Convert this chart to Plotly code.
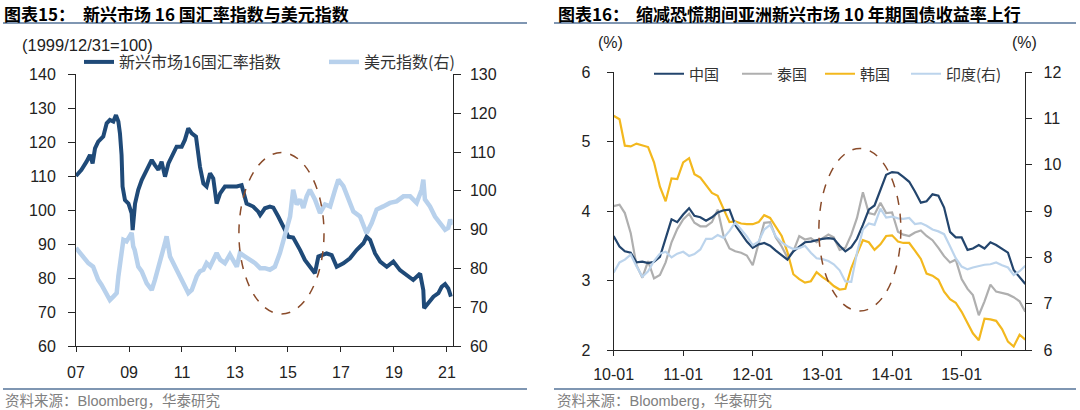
import plotly.graph_objects as go
import pandas as pd

W, H = 1080, 410
FONT = "Liberation Sans, Noto Sans CJK SC, sans-serif"
CJK = "Noto Sans CJK SC, Liberation Sans, sans-serif"


def py(p):
    # pixel row -> paper y
    return 1 - p / H


# ---- left chart: EM 16 FX index vs USD index ----
fx_dates = ["2007-01-01", "2007-03-17", "2007-05-26", "2007-07-13", "2007-08-18", "2007-09-20",
            "2007-11-03", "2008-01-12", "2008-02-28", "2008-04-12", "2008-05-30", "2008-07-05",
            "2008-08-07", "2008-08-29", "2008-09-20", "2008-10-04", "2008-11-06", "2008-12-24",
            "2009-02-06", "2009-02-20", "2009-03-25", "2009-05-08", "2009-06-25", "2009-09-02",
            "2009-11-10", "2009-12-24", "2010-02-10", "2010-03-26", "2010-05-12", "2010-06-28",
            "2010-09-02", "2010-10-19", "2010-12-28", "2011-02-10", "2011-03-29", "2011-05-16",
            "2011-07-13", "2011-08-15", "2011-09-06", "2011-10-23", "2011-12-06", "2012-01-23",
            "2012-03-07", "2012-04-23", "2012-06-10", "2012-08-15", "2012-10-23", "2013-01-26",
            "2013-04-02", "2013-04-27", "2013-06-10", "2013-09-09", "2013-11-18", "2013-12-14",
            "2014-02-17", "2014-04-27", "2014-06-13", "2014-08-22", "2014-10-30", "2015-01-08",
            "2015-03-14", "2015-05-01", "2015-06-18", "2015-08-22", "2015-10-30", "2016-01-08",
            "2016-02-24", "2016-04-08", "2016-06-17", "2016-08-26", "2016-11-03", "2017-02-03",
            "2017-05-05", "2017-08-04", "2017-11-06", "2017-12-20", "2018-02-06", "2018-04-16",
            "2018-06-25", "2018-09-24", "2018-12-24", "2019-03-25", "2019-06-25", "2019-09-24",
            "2019-12-28", "2020-02-10", "2020-02-21", "2020-04-20", "2020-06-28", "2020-09-05",
            "2020-10-20", "2020-12-06", "2021-01-19", "2021-02-25"]
fx_vals = [110.1, 111.9, 114.3, 116.3, 113.8, 118.2,
           120.2, 121.7, 125.6, 126.6, 126.1, 128.0,
           126.1, 122.6, 116.3, 107.0, 103.0, 102.0,
           99.1, 94.2, 102.0, 106.0, 108.9, 111.9,
           114.8, 113.3, 111.9, 114.3, 109.9, 113.8,
           116.8, 118.7, 118.7, 120.7, 124.1, 122.6,
           121.7, 116.8, 112.8, 107.9, 107.0, 110.9,
           109.4, 102.0, 105.0, 107.0, 107.0, 107.0,
           107.4, 105.0, 102.0, 101.1, 99.6, 98.6,
           100.6, 101.1, 100.8, 98.1, 95.2, 92.2,
           92.0, 90.3, 88.3, 85.4, 83.4, 81.5,
           86.4, 86.8, 87.3, 86.8, 83.4, 84.4,
           85.9, 88.3, 90.3, 92.2, 91.3, 87.3,
           84.9, 83.4, 84.9, 82.4, 81.0, 79.5,
           81.4, 76.5, 71.2, 72.6, 74.6, 75.6,
           77.5, 78.3, 77.0, 74.6]

usd_dates = ["2007-01-01", "2007-02-25", "2007-04-20", "2007-06-20", "2007-08-25", "2007-11-03",
             "2007-12-20", "2008-02-28", "2008-04-12", "2008-05-30", "2008-07-15", "2008-08-07",
             "2008-09-20", "2008-10-15", "2008-11-28", "2009-01-15", "2009-02-06", "2009-02-28",
             "2009-03-20", "2009-05-08", "2009-06-25", "2009-09-02", "2009-11-10", "2009-12-24",
             "2010-03-03", "2010-05-12", "2010-06-03", "2010-07-20", "2010-10-19", "2011-01-18",
             "2011-03-29", "2011-05-16", "2011-07-23", "2011-09-06", "2011-10-23", "2011-12-06",
             "2012-01-23", "2012-04-23", "2012-06-10", "2012-08-15", "2012-10-23", "2013-01-26",
             "2013-03-10", "2013-05-20", "2013-07-26", "2013-10-05", "2013-12-14", "2014-02-17",
             "2014-04-27", "2014-07-05", "2014-09-12", "2014-11-20", "2015-01-30", "2015-03-14",
             "2015-05-01", "2015-06-18", "2015-08-01", "2015-09-16", "2015-10-30", "2016-01-08",
             "2016-03-18", "2016-05-26", "2016-08-04", "2016-10-12", "2016-11-25", "2017-02-03",
             "2017-04-13", "2017-06-21", "2017-09-20", "2017-12-20", "2018-02-28", "2018-05-08",
             "2018-08-07", "2018-11-06", "2019-02-06", "2019-05-12", "2019-08-12", "2019-11-10",
             "2020-01-18", "2020-02-10", "2020-03-03", "2020-05-12", "2020-07-20", "2020-09-27",
             "2020-12-06", "2021-01-19", "2021-02-14", "2021-03-20"]
usd_vals = [85.3, 84.0, 83.1, 81.4, 80.5, 77.1,
            75.8, 73.7, 71.9, 72.8, 73.7, 78.0,
            85.7, 87.4, 87.0, 88.3, 89.2, 85.7,
            84.8, 80.5, 79.3, 76.2, 74.5, 77.1,
            81.4, 86.6, 88.3, 83.1, 79.7, 76.2,
            73.7, 74.5, 78.0, 79.3, 79.7, 81.4,
            80.5, 84.0, 82.3, 81.4, 83.6, 80.5,
            84.0, 83.1, 82.3, 81.4, 80.1, 80.1,
            79.7, 80.5, 84.0, 89.2, 93.4, 100.3,
            96.5, 97.8, 95.6, 98.6, 100.3, 97.8,
            94.3, 96.5, 96.0, 100.3, 102.9, 101.2,
            97.8, 94.7, 93.4, 89.1, 91.7, 95.2,
            96.0, 96.9, 97.3, 98.6, 98.6, 96.9,
            100.3, 102.9, 97.8, 96.0, 93.4, 91.7,
            90.0, 90.5, 92.6, 91.3]

# ---- right chart: Asian EM 10Y yields, monthly 2010-01 .. 2015-12 ----
months = pd.date_range("2010-01-01", "2015-12-01", freq="MS")
china = [3.64, 3.49, 3.42, 3.40, 3.26, 3.27, 3.25, 3.27, 3.34, 3.59, 3.88, 3.84,
         3.95, 4.04, 3.93, 3.91, 3.86, 3.91, 3.98, 4.01, 4.02, 3.80, 3.68, 3.56,
         3.47, 3.52, 3.54, 3.50, 3.43, 3.37, 3.30, 3.42, 3.48, 3.55, 3.56, 3.58,
         3.60, 3.61, 3.60, 3.50, 3.42, 3.48, 3.60, 3.80, 4.02, 4.08, 4.30, 4.52,
         4.56, 4.55, 4.49, 4.42, 4.28, 4.12, 4.14, 4.24, 4.22, 4.05, 3.70, 3.62,
         3.62, 3.44, 3.46, 3.51, 3.46, 3.55, 3.51, 3.45, 3.40, 3.15, 3.05, 2.95]
thailand = [4.07, 4.09, 3.97, 3.68, 3.22, 3.04, 3.28, 3.03, 3.08, 3.26, 3.55, 3.74,
            3.88, 3.96, 3.83, 3.78, 3.78, 3.84, 4.02, 3.64, 3.46, 3.42, 3.40, 3.36,
            3.22, 3.52, 3.83, 3.84, 3.62, 3.49, 3.33, 3.42, 3.64, 3.59, 3.61, 3.55,
            3.61, 3.66, 3.62, 3.44, 3.47, 3.66, 3.90, 4.27, 3.97, 3.95, 4.12, 3.97,
            3.98, 3.70, 3.66, 3.64, 3.69, 3.72, 3.64, 3.58, 3.47, 3.35, 3.26, 3.30,
            3.02, 2.88, 2.79, 2.50, 2.70, 2.94, 2.84, 2.82, 2.80, 2.76, 2.70, 2.55]
korea = [5.37, 5.32, 4.94, 4.93, 4.97, 4.95, 4.92, 4.70, 4.35, 4.14, 4.47, 4.46,
         4.70, 4.76, 4.53, 4.48, 4.37, 4.26, 4.22, 4.02, 3.84, 3.85, 3.82, 3.81,
         3.81, 3.84, 3.94, 3.90, 3.77, 3.64, 3.41, 3.09, 3.02, 2.97, 2.99, 3.12,
         3.05, 2.99, 2.92, 2.87, 2.88, 3.18, 3.38, 3.58, 3.55, 3.44, 3.52, 3.64,
         3.65, 3.56, 3.54, 3.54, 3.43, 3.31, 3.10, 3.07, 3.01, 2.84, 2.73, 2.68,
         2.55, 2.38, 2.24, 2.14, 2.45, 2.44, 2.42, 2.30, 2.12, 2.05, 2.22, 2.15]
india = [7.67, 7.89, 7.95, 8.06, 7.81, 7.58, 7.70, 7.92, 8.08, 8.12, 8.00, 8.08,
         8.12, 8.03, 8.07, 8.17, 8.40, 8.40, 8.48, 8.42, 8.57, 8.75, 8.60, 8.45,
         8.26, 8.34, 8.60, 8.70, 8.45, 8.32, 8.24, 8.18, 8.20, 8.25, 8.10, 7.98,
         7.96, 7.92, 7.85, 7.72, 7.48, 7.47, 8.10, 8.60, 8.73, 8.70, 9.05, 8.86,
         8.88, 8.84, 8.83, 8.85, 8.72, 8.74, 8.68, 8.60, 8.56, 8.50, 8.24, 7.98,
         7.80, 7.74, 7.78, 7.81, 7.84, 7.85, 7.89, 7.83, 7.78, 7.62, 7.70, 7.82]

NAVY = "#1F4A78"
LIGHT = "#B8D1EC"

fig = go.Figure()
fig.add_trace(go.Scatter(x=usd_dates, y=usd_vals, name="美元指数(右)", mode="lines",
                         line=dict(color=LIGHT, width=4.5), xaxis="x", yaxis="y2", legend="legend2"))
fig.add_trace(go.Scatter(x=fx_dates, y=fx_vals, name="新兴市场16国汇率指数", mode="lines",
                         line=dict(color=NAVY, width=4), xaxis="x", yaxis="y", legend="legend"))

fig.add_trace(go.Scatter(x=months, y=india, name="印度(右)", mode="lines",
                         line=dict(color="#BCD4EC", width=2.2), xaxis="x3", yaxis="y4", legend="legend6"))
fig.add_trace(go.Scatter(x=months, y=thailand, name="泰国", mode="lines",
                         line=dict(color="#AFAFAF", width=2.2), xaxis="x3", yaxis="y3", legend="legend4"))
fig.add_trace(go.Scatter(x=months, y=korea, name="韩国", mode="lines",
                         line=dict(color="#F3B81E", width=2.2), xaxis="x3", yaxis="y3", legend="legend5"))
fig.add_trace(go.Scatter(x=months, y=china, name="中国", mode="lines",
                         line=dict(color="#23456D", width=2.2), xaxis="x3", yaxis="y3", legend="legend3"))

tickfont = dict(family=FONT, size=16, color="#222222")
axis_common = dict(showline=True, linecolor="#262626", linewidth=1, ticks="outside",
                   tickcolor="#262626", showgrid=False, zeroline=False, tickfont=tickfont,
                   automargin=False)

left_dom_x = [76 / W, 452.7 / W]
left_dom_y = [py(346.3), py(74.3)]
right_dom_x = [613.6 / W, 1025.3 / W]
right_dom_y = [py(350), py(72)]


def leg(x, ypx, size):
    return dict(orientation="h", x=x / W, y=py(ypx), xanchor="left", yanchor="middle",
                bgcolor="rgba(0,0,0,0)", borderwidth=0, itemwidth=30,
                font=dict(family=CJK, size=size, color="#333333"))


fig.update_layout(
    width=W, height=H, margin=dict(l=0, r=0, t=0, b=0, pad=0, autoexpand=False),
    paper_bgcolor="white", plot_bgcolor="white",
    xaxis=dict(axis_common, domain=left_dom_x, anchor="y", type="date",
               range=["2007-01-01", "2021-03-21"], tick0="2007-01-01", dtick="M24",
               tickformat="%y", ticklen=5, ticklabelstandoff=6),
    yaxis=dict(axis_common, domain=left_dom_y, anchor="x", range=[60, 140], dtick=10,
               ticklen=7, ticklabelstandoff=9),
    yaxis2=dict(axis_common, overlaying="y", side="right", anchor="x", range=[60, 130],
                dtick=10, ticklen=7, ticklabelstandoff=6),
    xaxis3=dict(axis_common, domain=right_dom_x, anchor="y3", type="date",
                range=["2010-01-01", "2015-12-01"], tick0="2010-01-01", dtick="M12",
                tickformat="%y-%m", ticklen=5, ticklabelstandoff=5),
    yaxis3=dict(axis_common, domain=right_dom_y, anchor="x3", range=[2, 6], dtick=1,
                ticklen=6, ticklabelstandoff=13),
    yaxis4=dict(axis_common, overlaying="y3", side="right", anchor="x3", range=[6, 12],
                dtick=1, ticklen=6, ticklabelstandoff=8),
    legend=leg(79, 62, 16),
    legend2=leg(324, 62, 16),
    legend3=leg(649, 74, 15),
    legend4=leg(737, 74, 15),
    legend5=leg(820, 74, 15),
    legend6=leg(906, 74, 15),
    showlegend=True,
)

# dashed ellipses marking the taper-tantrum window
ell = dict(type="circle", line=dict(color="#8A4B2A", width=1.5, dash="dash"), layer="above")
fig.add_shape(ell, xref="x", yref="y", x0="2013-02-24", x1="2016-05-12", y0=69.5, y1=117)
fig.add_shape(ell, xref="x3", yref="y3", x0="2012-12-13", x1="2014-02-16", y0=2.56, y1=4.90)

# title rules and footer rules
rule = dict(type="line", xref="paper", yref="paper", line=dict(color="#7F96B2", width=2))
for x0, x1 in [(3, 527), (554, 1076)]:
    fig.add_shape(rule, x0=x0 / W, x1=x1 / W, y0=py(23), y1=py(23))
    fig.add_shape(rule, x0=x0 / W, x1=x1 / W, y0=py(389), y1=py(389))


def note(text, x, ypx, size, color="#222222", family=FONT, anchor="left"):
    fig.add_annotation(text=text, x=x / W, y=py(ypx), xref="paper", yref="paper",
                       xanchor=anchor, yanchor="middle", showarrow=False,
                       font=dict(family=family, size=size, color=color))


note("<b>图表15：</b>", 2, 13, 17, "#000000", CJK)
note("<b>新兴市场 16 国汇率指数与美元指数</b>", 81, 13, 17, "#000000", CJK)
note("<b>图表16：</b>", 556, 13, 17, "#000000", CJK)
note("<b>缩减恐慌期间亚洲新兴市场 10 年期国债收益率上行</b>", 634, 13, 17, "#000000", CJK)
note("(1999/12/31=100)", 20, 45, 16.5)
note("(%)", 610.7, 43, 16, anchor="center")
note("(%)", 1024.5, 43, 16, anchor="center")
note("资料来源：Bloomberg，华泰研究", 3, 401, 14.5, "#808080")
note("资料来源：Bloomberg，华泰研究", 555, 401, 14.5, "#808080")

fig.write_html("out.html", config={"displayModeBar": False},
               post_script="document.body.style.margin='0';")
